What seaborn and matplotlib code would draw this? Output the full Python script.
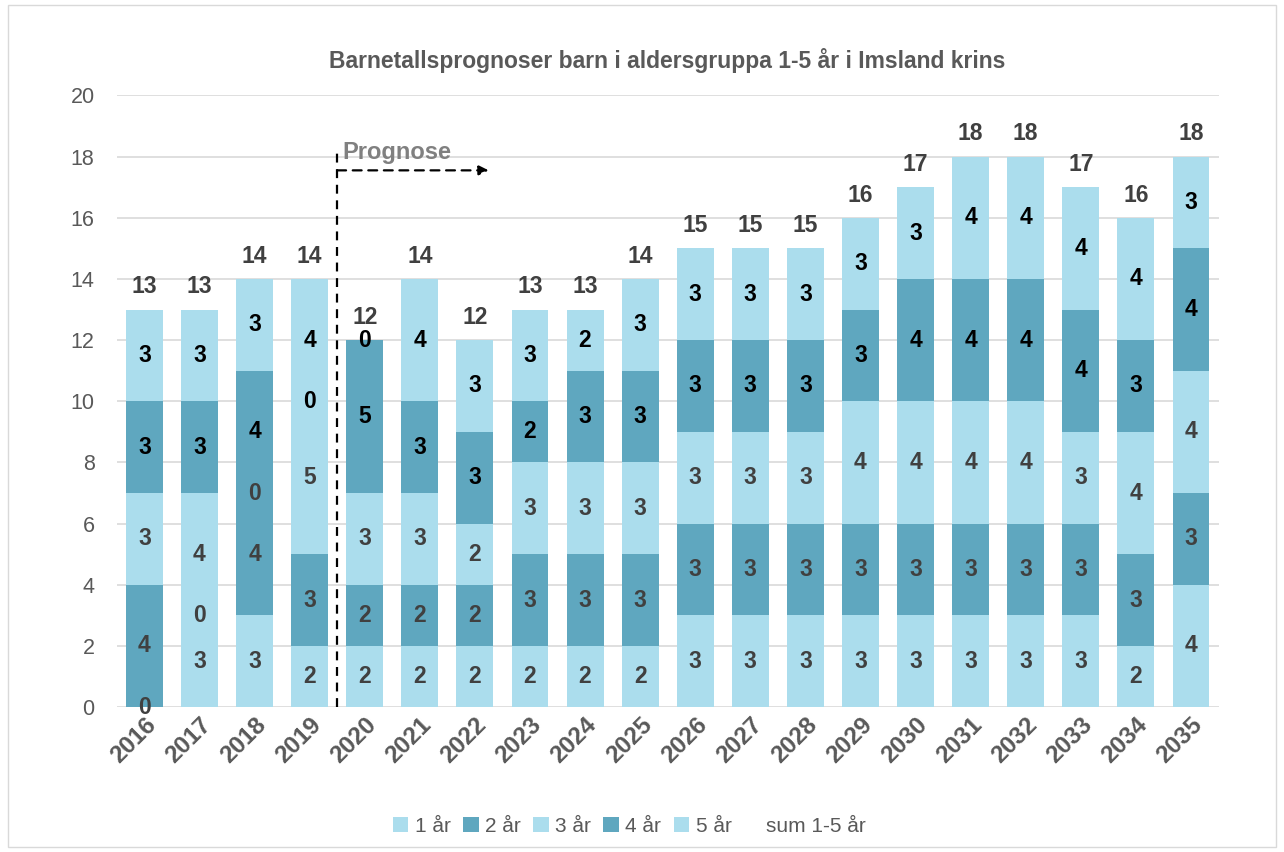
import matplotlib
matplotlib.use('Agg')
import matplotlib.pyplot as plt
from matplotlib.patches import Patch, Rectangle
import pandas as pd
import seaborn as sns

years = [str(y) for y in range(2016, 2036)]
age_groups = ['1 år', '2 år', '3 år', '4 år', '5 år']
aar1 = [0, 3, 3, 2, 2, 2, 2, 2, 2, 2, 3, 3, 3, 3, 3, 3, 3, 3, 2, 4]
aar2 = [4, 0, 4, 3, 2, 2, 2, 3, 3, 3, 3, 3, 3, 3, 3, 3, 3, 3, 3, 3]
aar3 = [3, 4, 0, 5, 3, 3, 2, 3, 3, 3, 3, 3, 3, 4, 4, 4, 4, 3, 4, 4]
aar4 = [3, 3, 4, 0, 5, 3, 3, 2, 3, 3, 3, 3, 3, 3, 4, 4, 4, 4, 3, 4]
aar5 = [3, 3, 3, 4, 0, 4, 3, 3, 2, 3, 3, 3, 3, 3, 3, 4, 4, 4, 4, 3]

LIGHT = '#ABDDED'
DARK = '#5FA7BF'
colors = [LIGHT, DARK, LIGHT, DARK, LIGHT]
label_colors = ['#404040', '#404040', '#404040', 'black', 'black']

df = pd.DataFrame({'year': years, '1 år': aar1, '2 år': aar2, '3 år': aar3,
                   '4 år': aar4, '5 år': aar5})
df['sum'] = df[age_groups].sum(axis=1)

sns.set_style('white')
plt.rcParams['font.family'] = ['Liberation Sans', 'DejaVu Sans']

fig = plt.figure(figsize=(12.84, 8.52), dpi=100)
ax = fig.add_axes([0.091, 0.170, 0.858, 0.718])

bottom = [0] * len(years)
for grp, col, lcol in zip(age_groups, colors, label_colors):
    sns.barplot(data=df, x='year', y=grp, color=col, width=0.67, bottom=bottom,
                ax=ax, saturation=1, edgecolor='none', linewidth=0)
    cont = ax.containers[-1]
    ax.bar_label(cont, labels=[str(v) for v in df[grp]], label_type='center',
                 fontsize=16.5, fontweight='bold', color=lcol)
    bottom = [b + v for b, v in zip(bottom, df[grp])]

# sum labels above bars
ax.bar_label(ax.containers[-1], labels=[str(v) for v in df['sum']], padding=8,
             fontsize=16.5, fontweight='bold', color='#404040')

ax.set_xlim(-0.5, len(years) - 0.5)
ax.set_ylim(0, 20)
ax.set_yticks(range(0, 21, 2))
ax.yaxis.grid(True, color='#D9D9D9', linewidth=1.2)
ax.set_axisbelow(True)
for s in ax.spines.values():
    s.set_visible(False)
ax.set_xlabel('')
ax.set_ylabel('')
ax.tick_params(axis='y', labelsize=15.5, labelcolor='#595959', length=0, pad=16)
ax.tick_params(axis='x', length=0, pad=4)
plt.setp(ax.get_xticklabels(), rotation=45, ha='right', rotation_mode='anchor',
         fontsize=17.5, fontweight='bold', color='#595959')

ax.set_title('Barnetallsprognoser barn i aldersgruppa 1-5 år i Imsland krins',
             fontsize=16.5, fontweight='bold', color='#595959', pad=20)

# prognose marker
split = years.index('2020') - 0.5
ax.plot([split, split], [0, 18.2], ls=(0, (4, 3)), color='black', lw=1.6, clip_on=False)
ax.annotate('', xy=(split + 2.75, 17.55), xytext=(split, 17.55),
            arrowprops=dict(arrowstyle='-|>', linestyle=(0, (4, 3)), color='black',
                            lw=1.6, mutation_scale=14, shrinkA=0, shrinkB=0))
ax.text(split + 0.1, 17.75, 'Prognose', fontsize=17, fontweight='bold',
        color='#808080', ha='left', va='bottom')

handles = [Patch(facecolor=c, edgecolor='none') for c in colors]
handles.append(Patch(facecolor='none', edgecolor='none'))
labels = age_groups + ['sum 1-5 år']
fig.legend(handles, labels, loc='center', bbox_to_anchor=(0.49, 0.03), ncol=6,
           frameon=False, fontsize=15, handlelength=0.75, handleheight=0.75,
           handletextpad=0.3, columnspacing=0.6, labelcolor='#595959')

fig.patches.append(Rectangle((0.006, 0.006), 0.988, 0.988, transform=fig.transFigure,
                             fill=False, edgecolor='#D9D9D9', lw=1))

fig.savefig('out.png', dpi=100)
